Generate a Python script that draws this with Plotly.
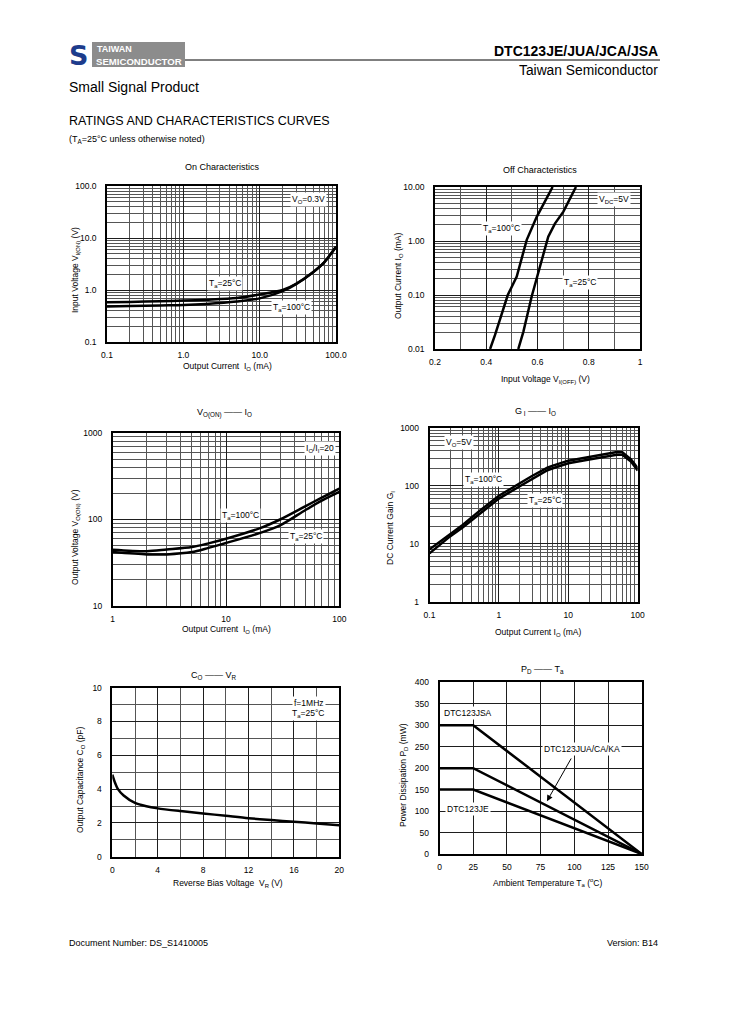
import plotly.graph_objects as go

# page has an 8px body margin; the figure is sized so the page fits the 729x1032 window
OFF = 8
W, H = 729 - OFF, 1032 - OFF
FONT = "Liberation Sans, Arial, sans-serif"

# ---------------- data ----------------
# On characteristics: input voltage vs output current
on_io = [0.1, 0.2, 0.5, 1, 2, 5, 10, 20, 30, 50, 70, 100]
on_vi_25 = [0.58, 0.59, 0.61, 0.625, 0.65, 0.70, 0.82, 1.0, 1.32, 2.2, 3.4, 6.8]
on_vi_100 = [0.48, 0.49, 0.505, 0.515, 0.54, 0.60, 0.69, 0.95, 1.3, 2.2, 3.4, 6.8]

# Off characteristics: output current vs input voltage
off_vi_100 = [0.415, 0.434, 0.484, 0.519, 0.558, 0.597, 0.659]
off_io_100 = [0.01, 0.018, 0.1, 0.22, 1.05, 2.8, 10]
off_vi_25 = [0.525, 0.545, 0.577, 0.61, 0.642, 0.668, 0.701, 0.75]
off_io_25 = [0.01, 0.021, 0.093, 0.36, 1.2, 2.1, 3.5, 10]

# VO(ON) vs IO
von_io = [1, 2, 3, 5, 7, 10, 20, 30, 50, 70, 100]
von_100 = [44.8, 43, 45, 48, 53, 60, 79.5, 100, 142, 179, 227]
von_25 = [42, 39.5, 39.5, 42, 47, 53.5, 70, 85.5, 128, 165, 208]

# GI vs IO
gi_io = [0.1, 0.2, 0.3, 0.5, 1, 2, 3, 5, 6, 10, 20, 30, 50, 60, 80, 100]
gi_100 = [8, 15, 21, 35, 67, 110, 147, 204, 222, 270, 316, 347, 380, 378, 285, 200]
gi_25 = [6.8, 13.5, 19, 31, 60, 98, 130, 185, 200, 243, 283, 310, 340, 342, 262, 182]

# CO vs VR
co_vr = [0, 0.2, 0.5, 1, 2, 3, 4, 6, 8, 10, 12, 14, 16, 18, 20]
co_pf = [4.85, 4.45, 4.0, 3.62, 3.18, 2.98, 2.86, 2.7, 2.56, 2.42, 2.28, 2.17, 2.07, 1.97, 1.86]

# PD vs Ta
pd_ta = [0, 25, 150]
pd_jsa = [300, 300, 0]
pd_jua = [200, 200, 0]
pd_je = [150, 150, 0]


def px(x):
    return (x - OFF) / W


def py(y):
    return 1 - (y - OFF) / H


def log_minors(lo, hi):
    return [m * 10 ** e for e in range(lo, hi) for m in range(2, 10)]


fig = go.Figure()

GRID_MAJ = "#1e1e1e"
GRID_MIN = "#555555"


def base_axis(dom, horizontal):
    d = dict(
        domain=[px(dom[0]), px(dom[1])] if horizontal else [py(dom[1]), py(dom[0])],
        showline=True, mirror=True, linecolor="black", linewidth=1.5,
        ticks="", showgrid=True, gridcolor=GRID_MAJ, gridwidth=1,
        zeroline=False, fixedrange=True, automargin=False,
        ticklabelstandoff=4 if horizontal else 7,
        tickfont=dict(family=FONT, size=8.5, color="black"),
    )
    return d


panels = {
    1: dict(xd=(107, 336), yd=(186, 342)),
    2: dict(xd=(435, 640), yd=(187, 349)),
    3: dict(xd=(112.7, 339.3), yd=(433, 606)),
    4: dict(xd=(429.5, 637.7), yd=(427.7, 601.7)),
    5: dict(xd=(112.3, 339.3), yd=(687.7, 856.7)),
    6: dict(xd=(439.5, 641.7), yd=(682.3, 854)),
}

layout = {}
for i, p in panels.items():
    xk = "xaxis" if i == 1 else f"xaxis{i}"
    yk = "yaxis" if i == 1 else f"yaxis{i}"
    xa = base_axis(p["xd"], True)
    ya = base_axis(p["yd"], False)
    xa["anchor"] = "y" if i == 1 else f"y{i}"
    ya["anchor"] = "x" if i == 1 else f"x{i}"
    layout[xk] = xa
    layout[yk] = ya


def minor_arr(vals):
    return dict(tickmode="array", tickvals=vals, showgrid=True,
                gridcolor=GRID_MIN, gridwidth=1, ticks="")


# Panel 1
layout["xaxis"].update(type="log", range=[-1, 2], tickmode="array",
                       tickvals=[0.1, 1, 10, 100], ticktext=["0.1", "1.0", "10.0", "100.0"],
                       minor=minor_arr(log_minors(-1, 2)))
layout["yaxis"].update(type="log", range=[-1, 2], tickmode="array",
                       tickvals=[0.1, 1, 10, 100], ticktext=["0.1", "1.0", "10.0", "100.0"],
                       minor=minor_arr(log_minors(-1, 2)))
# Panel 2
layout["xaxis2"].update(range=[0.2, 1], tickmode="array",
                        tickvals=[0.2, 0.4, 0.6, 0.8, 1.0], ticktext=["0.2", "0.4", "0.6", "0.8", "1"],
                        minor=minor_arr([0.3, 0.5, 0.7, 0.9]))
layout["yaxis2"].update(type="log", range=[-2, 1], tickmode="array",
                        tickvals=[0.01, 0.1, 1, 10], ticktext=["0.01", "0.10", "1.00", "10.00"],
                        minor=minor_arr(log_minors(-2, 1)))
# Panel 3
layout["xaxis3"].update(type="log", range=[0, 2], tickmode="array",
                        tickvals=[1, 10, 100], ticktext=["1", "10", "100"],
                        minor=minor_arr(log_minors(0, 2)))
layout["yaxis3"].update(type="log", range=[1, 3], tickmode="array",
                        tickvals=[10, 100, 1000], ticktext=["10", "100", "1000"],
                        minor=minor_arr(log_minors(1, 3)))
# Panel 4
layout["xaxis4"].update(type="log", range=[-1, 2], tickmode="array",
                        tickvals=[0.1, 1, 10, 100], ticktext=["0.1", "1", "10", "100"],
                        minor=minor_arr(log_minors(-1, 2)))
layout["yaxis4"].update(type="log", range=[0, 3], tickmode="array",
                        tickvals=[1, 10, 100, 1000], ticktext=["1", "10", "100", "1000"],
                        minor=minor_arr(log_minors(0, 3)))
# Panel 5
layout["xaxis5"].update(range=[0, 20], tickmode="linear", tick0=0, dtick=4,
                        minor=dict(tickmode="linear", tick0=0, dtick=2, showgrid=True,
                                   gridcolor=GRID_MIN, gridwidth=1, ticks=""))
layout["yaxis5"].update(range=[0, 10], tickmode="linear", tick0=0, dtick=2,
                        minor=dict(tickmode="linear", tick0=0, dtick=1, showgrid=True,
                                   gridcolor=GRID_MIN, gridwidth=1, ticks=""))
# Panel 6
layout["xaxis6"].update(range=[0, 150], tickmode="linear", tick0=0, dtick=25)
layout["yaxis6"].update(range=[0, 400], tickmode="linear", tick0=0, dtick=50)


def add_line(x, y, i, shape="spline"):
    fig.add_trace(go.Scatter(
        x=x, y=y, mode="lines",
        line=dict(color="black", width=2.5, shape=shape,
                  smoothing=0.8 if shape == "spline" else None),
        xaxis="x" if i == 1 else f"x{i}", yaxis="y" if i == 1 else f"y{i}",
        showlegend=False, hoverinfo="skip"))


add_line(on_io, on_vi_25, 1)
add_line(on_io, on_vi_100, 1)
add_line(off_vi_100, off_io_100, 2, "linear")
add_line(off_vi_25, off_io_25, 2, "linear")
add_line(von_io, von_100, 3)
add_line(von_io, von_25, 3)
add_line(gi_io, gi_100, 4, "linear")
add_line(gi_io, gi_25, 4, "linear")
add_line(co_vr, co_pf, 5)
add_line(pd_ta, pd_jsa, 6, "linear")
add_line(pd_ta, pd_jua, 6, "linear")
add_line(pd_ta, pd_je, 6, "linear")

ann = []


def txt(x, y, text, size=8.5, xanchor="center", bg=None, angle=0, bold=False, color="black",
        family=FONT, yanchor="middle"):
    a = dict(x=px(x), y=py(y), xref="paper", yref="paper", text=text, showarrow=False,
             xanchor=xanchor, yanchor=yanchor, textangle=angle,
             font=dict(family=family, size=size, color=color,
                       weight="bold" if bold else "normal"))
    if bg:
        a["bgcolor"] = bg
        a["borderpad"] = 1
    ann.append(a)


# in-chart labels
TA = "T<sub>a</sub>"
txt(308, 199, "V<sub>O</sub>=0.3V", bg="white")
txt(225, 283, TA + "=25°C", bg="white")
txt(291, 307, TA + "=100°C", bg="white")
txt(614, 199, "V<sub>DC</sub>=5V", bg="white")
txt(501, 228, TA + "=100°C", bg="white")
txt(580, 282, TA + "=25°C", bg="white")
txt(320, 448, "I<sub>O</sub>/I<sub>I</sub>=20", bg="white")
txt(240, 515, TA + "=100°C", bg="white")
txt(306, 536, TA + "=25°C", bg="white")
txt(459, 442, "V<sub>O</sub>=5V", bg="white")
txt(483, 479, TA + "=100°C", bg="white")
txt(545, 500, TA + "=25°C", bg="white")
txt(326, 703, "f=1MHz", bg="white", xanchor="right")
txt(326, 713, TA + "=25°C", bg="white", xanchor="right")
txt(468, 713, "DTC123JSA", bg="white")
txt(582, 749, "DTC123JUA/CA/KA", bg="white")
txt(468, 809, "DTC123JE", bg="white")

# arrow in panel 6
ann.append(dict(x=79.7, y=123, xref="x6", yref="y6", ax=98.3, ay=226, axref="x6", ayref="y6",
                showarrow=True, arrowhead=2, arrowsize=1.2, arrowwidth=1, arrowcolor="black",
                text=""))

# chart titles
txt(223, 167, "On Characteristics", size=9)
txt(540, 170, "Off Characteristics", size=9)
txt(225, 413, "V<sub>O(ON)</sub> —— I<sub>O</sub>", size=9)
txt(535, 411, "G<sub> I</sub> —— I<sub>O</sub>", size=9)
txt(213, 675, "C<sub>O</sub> —— V<sub>R</sub>", size=9)
txt(542, 669, "P<sub>D</sub> —— T<sub>a</sub>", size=9)

# axis titles
txt(228, 366, "Output Current  I<sub>O</sub> (mA)")
txt(75, 270, "Input Voltage V<sub>I(ON)</sub> (V)", angle=-90)
txt(545, 379, "Input Voltage V<sub>I(OFF)</sub> (V)")
txt(398, 276, "Output Current I<sub>O</sub> (mA)", angle=-90)
txt(227, 629, "Output Current  I<sub>O</sub> (mA)")
txt(75, 537, "Output Voltage V<sub>O(ON)</sub> (V)", angle=-90)
txt(538, 632, "Output Current I<sub>O</sub> (mA)")
txt(390, 528, "DC Current Gain G<sub>I</sub>", angle=-90)
txt(228, 883, "Reverse Bias Voltage  V<sub>R</sub> (V)")
txt(80, 780, "Output Capacitance C<sub>O</sub> (pF)", angle=-90)
txt(547, 882, "Ambient Temperature T<sub>a</sub> (<sup>o</sup>C)")
txt(403, 775, "Power Dissipation P<sub>D</sub> (mW)", angle=-90)

# header
txt(660, 51, "DTC123JE/JUA/JCA/JSA", size=14, xanchor="right", bold=True)
txt(660, 70, "Taiwan Semiconductor", size=13.8, xanchor="right")
txt(67, 87, "Small Signal Product", size=14, xanchor="left")
txt(67, 121, "RATINGS AND CHARACTERISTICS CURVES", size=12.5, xanchor="left")
txt(67, 139, "(T<sub>A</sub>=25°C unless otherwise noted)", size=9, xanchor="left")
txt(95, 48.5, "TAIWAN", size=9, xanchor="left", bold=True, color="white")
txt(94, 61, "SEMICONDUCTOR", size=9.6, xanchor="left", bold=True, color="white")
txt(78.5, 55.5, "S", size=27, bold=True, color="#1d3c8c", family="DejaVu Sans")

# footer
txt(67, 943, "Document Number: DS_S1410005", size=9, xanchor="left")
txt(660, 943, "Version: B14", size=9, xanchor="right")

shapes = [
    dict(type="rect", xref="paper", yref="paper", x0=px(92), x1=px(185), y0=py(67), y1=py(42),
         fillcolor="#8c8c8c", line=dict(width=0), layer="below"),
    dict(type="line", xref="paper", yref="paper", x0=px(185), x1=px(660), y0=py(60), y1=py(60),
         line=dict(color="black", width=1)),
]

fig.update_layout(
    template="none",
    width=W, height=H, autosize=False,
    margin=dict(l=0, r=0, t=0, b=0, pad=0, autoexpand=False),
    paper_bgcolor="white", plot_bgcolor="white",
    font=dict(family=FONT, color="black"),
    annotations=ann, shapes=shapes, showlegend=False,
    **layout,
)

fig.write_html("out.html", config={"displayModeBar": False})
